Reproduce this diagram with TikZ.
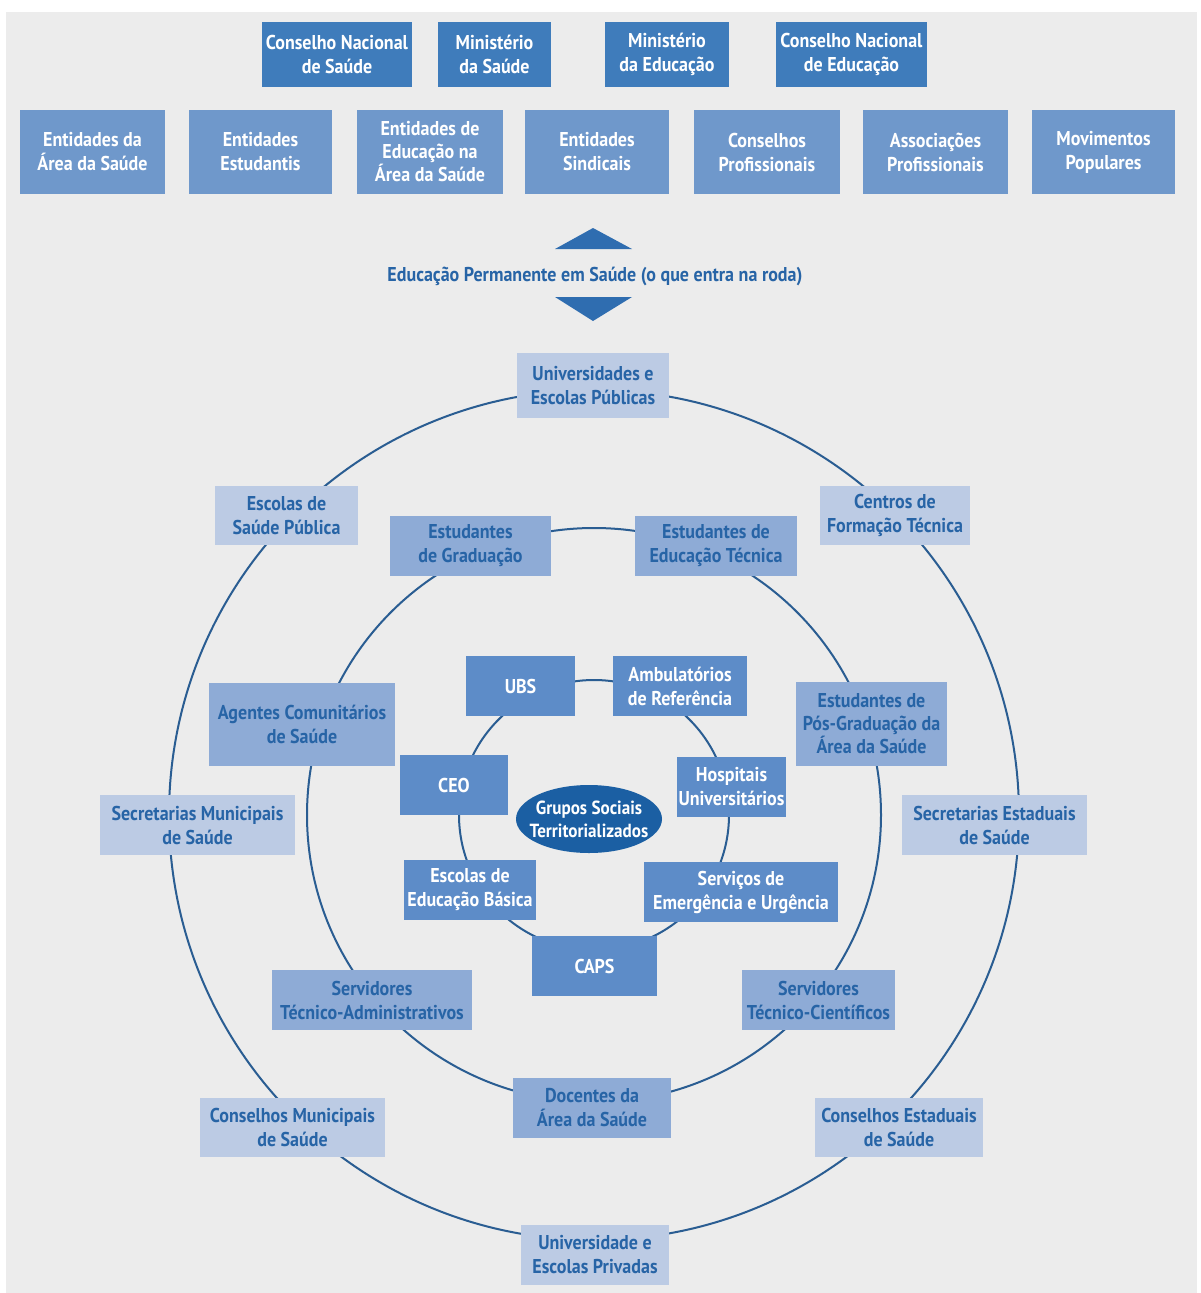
\documentclass[tikz,border=0pt]{standalone}
\usepackage{fontspec}
\setmainfont[FakeStretch=0.9]{PT Sans}
\usetikzlibrary{shapes.geometric}
\definecolor{bgc}{HTML}{ECECEC}
\definecolor{darkbox}{HTML}{3F7CBB}
\definecolor{rowbox}{HTML}{6F98CB}
\definecolor{outerbox}{HTML}{BCCBE4}
\definecolor{midbox}{HTML}{8EABD6}
\definecolor{innerbox}{HTML}{5D8CC8}
\definecolor{ellc}{HTML}{1B5FA3}
\definecolor{txtdark}{HTML}{2764A6}
\definecolor{ringc}{HTML}{2A5D92}
\definecolor{arrc}{HTML}{2F6DB0}
\begin{document}
\begin{tikzpicture}[x=1pt,y=-1pt,
  base/.style={inner sep=0pt, align=center, font=\fontsize{20}{24}\selectfont\bfseries},
  tri/.style={base, font=\fontsize{20}{23}\selectfont\bfseries},
  topbox/.style={base, fill=darkbox, text=white},
  rowb/.style={base, fill=rowbox, text=white},
  outb/.style={base, fill=outerbox, text=txtdark},
  midb/.style={base, fill=midbox, text=txtdark},
  innb/.style={base, fill=innerbox, text=white},
  ring/.style={draw=ringc, line width=2pt}]
\useasboundingbox (0,0) rectangle (1201,1293);
\fill[white] (0,0) rectangle (1201,1293);
\fill[bgc] (6,12) rectangle (1197,1293);

% top row
\node[topbox, minimum width=150pt, minimum height=65pt] (cns) at (337,54.5) {Conselho Nacional\\de Saúde};
\node[topbox, minimum width=113pt, minimum height=65pt] (ms) at (494.5,54.5) {Ministério\\da Saúde};
\node[topbox, minimum width=124pt, minimum height=65pt] (me) at (667,54.5) {Ministério\\da Educação};
\node[topbox, minimum width=151pt, minimum height=65pt] (cne) at (851.5,54.5) {Conselho Nacional\\de Educação};

% second row
\node[rowb, minimum width=145pt, minimum height=84pt] (e1) at (92.5,152) {Entidades da\\Área da Saúde};
\node[rowb, minimum width=143pt, minimum height=84pt] (e2) at (260.5,152) {Entidades\\Estudantis};
\node[rowb, tri, minimum width=146pt, minimum height=84pt] (e3) at (430,152) {Entidades de\\Educação na\\Área da Saúde};
\node[rowb, minimum width=144pt, minimum height=84pt] (e4) at (597,152) {Entidades\\Sindicais};
\node[rowb, minimum width=146pt, minimum height=84pt] (e5) at (767,152) {Conselhos\\Profissionais};
\node[rowb, minimum width=145pt, minimum height=84pt] (e6) at (935.5,152) {Associações\\Profissionais};
\node[rowb, minimum width=143pt, minimum height=84pt] (e7) at (1103.5,152) {Movimentos\\Populares};

% arrows and label
\fill[arrc] (555,249) -- (593,228) -- (632,249) -- cycle;
\fill[arrc] (555,297) -- (593,321) -- (632,297) -- cycle;
\node[base, text=txtdark] (eps) at (595,276) {Educação Permanente em Saúde (o que entra na roda)};

% rings
\coordinate (ctr) at (594,815);
\draw[ring] (ctr) circle[radius=425pt];
\draw[ring] (ctr) circle[radius=287pt];
\draw[ring] (ctr) circle[radius=135pt];

% outer ring boxes
\node[outb, minimum width=152pt, minimum height=65pt] (o1) at (593,385.5) {Universidades e\\Escolas Públicas};
\node[outb, minimum width=143pt, minimum height=59pt] (o2) at (286.5,515.5) {Escolas de\\Saúde Pública};
\node[outb, minimum width=150pt, minimum height=59pt] (o3) at (895,515.5) {Centros de\\Formação Técnica};
\node[outb, minimum width=195pt, minimum height=60pt] (o4) at (197.5,825) {Secretarias Municipais\\de Saúde};
\node[outb, minimum width=185pt, minimum height=60pt] (o5) at (994.5,825) {Secretarias Estaduais\\de Saúde};
\node[outb, minimum width=185pt, minimum height=59pt] (o6) at (292.5,1127.5) {Conselhos Municipais\\de Saúde};
\node[outb, minimum width=168pt, minimum height=59pt] (o7) at (899,1127.5) {Conselhos Estaduais\\de Saúde};
\node[outb, minimum width=148pt, minimum height=60pt] (o8) at (595,1255) {Universidade e\\Escolas Privadas};

% middle ring boxes
\node[midb, minimum width=161pt, minimum height=60pt] (m1) at (470.5,546) {Estudantes\\de Graduação};
\node[midb, minimum width=162pt, minimum height=60pt] (m2) at (716,546) {Estudantes de\\Educação Técnica};
\node[midb, minimum width=186pt, minimum height=83pt] (m3) at (302,724.5) {Agentes Comunitários\\de Saúde};
\node[midb, tri, minimum width=151pt, minimum height=84pt] (m4) at (871.5,724) {Estudantes de\\Pós-Graduação da\\Área da Saúde};
\node[midb, minimum width=200pt, minimum height=60pt] (m5) at (372,1000) {Servidores\\Técnico-Administrativos};
\node[midb, minimum width=153pt, minimum height=60pt] (m6) at (818.5,1000) {Servidores\\Técnico-Científicos};
\node[midb, minimum width=158pt, minimum height=60pt] (m7) at (592,1108) {Docentes da\\Área da Saúde};

% inner ring boxes
\node[innb, minimum width=109pt, minimum height=60pt] (i1) at (520.5,686) {UBS};
\node[innb, minimum width=134pt, minimum height=60pt] (i2) at (680,686) {Ambulatórios\\de Referência};
\node[innb, minimum width=108pt, minimum height=60pt] (i3) at (454,785) {CEO};
\node[innb, minimum width=109pt, minimum height=60pt] (i4) at (731.5,787) {Hospitais\\Universitários};
\node[innb, minimum width=132pt, minimum height=60pt] (i5) at (470,890) {Escolas de\\Educação Básica};
\node[innb, minimum width=194pt, minimum height=60pt] (i6) at (741,892) {Serviços de\\Emergência e Urgência};
\node[innb, minimum width=125pt, minimum height=60pt] (i7) at (594.5,966) {CAPS};

% center
\fill[ellc] (589,819) ellipse[x radius=73pt, y radius=34pt];
\node[base, text=white, font=\fontsize{19}{23}\selectfont\bfseries] (gst) at (589,819) {Grupos Sociais\\Territorializados};
\end{tikzpicture}
\end{document}
